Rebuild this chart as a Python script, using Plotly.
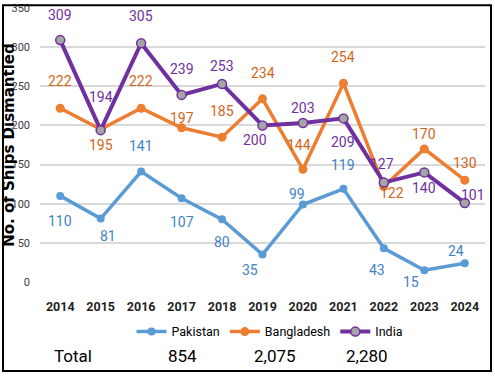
import plotly.graph_objects as go

years = ["2014", "2015", "2016", "2017", "2018", "2019", "2020", "2021", "2022", "2023", "2024"]
pakistan = [110, 81, 141, 107, 80, 35, 99, 119, 43, 15, 24]
bangladesh = [222, 195, 222, 197, 185, 234, 144, 254, 122, 170, 130]
india = [309, 194, 305, 239, 253, 200, 203, 209, 127, 140, 101]
y_ticks = [0, 50, 100, 150, 200, 250, 300, 350]

# label offsets in pixels (dx, dy downward)
pak_off = [(0, 25), (7, 17), (0, -26), (0, 24), (0, 23), (-13, 15), (-6, -11), (0, -24), (-7, 22), (-13, 12), (-9, -12)]
ban_off = [(0, -27), (0, 16), (0, -27), (0, -10), (0, -26), (0, -26), (-4, -24), (0, -26), (8, 7), (0, -15), (0, -17)]
ind_off = [(0, -25), (0, -33), (0, -27), (0, -26), (0, -18), (-8, 15), (0, -15), (0, 24), (-2, -19), (0, 16), (8, -8)]

FONT = "Roboto, Liberation Sans, sans-serif"

series = [
    ("Pakistan", pakistan, "#5B9BD5", "#3F83C4", dict(color="#5B9BD5", size=8), 3.5, pak_off),
    ("Bangladesh", bangladesh, "#ED7D31", "#D0661C", dict(color="#ED7D31", size=9), 3.5, ban_off),
    ("India", india, "#7030A0", "#7030A0", dict(color="#A5A5A5", size=9, line=dict(color="#7030A0", width=1.5)), 4, ind_off),
]

fig = go.Figure()
annotations = []
for name, vals, col, lcol, marker, lw, offs in series:
    fig.add_trace(go.Scatter(
        x=years, y=vals, name=name, mode="lines+markers",
        line=dict(color=col, width=lw), marker=marker,
    ))
    for i, (v, (dx, dy)) in enumerate(zip(vals, offs)):
        annotations.append(dict(
            x=i, y=v, xref="x", yref="y", text=str(v), showarrow=False,
            xshift=dx, yshift=-dy, font=dict(family=FONT, size=14, color=lcol),
        ))

# Totals row
totals = [sum(pakistan), sum(bangladesh), sum(india)]
total_x = [182, 275, 367]
ty = (282 - 356) / 274.2
annotations.append(dict(x=(73 - 40) / 445, y=ty, xref="paper", yref="paper",
                        xanchor="center", yanchor="middle",
                        text="Total", showarrow=False,
                        font=dict(family=FONT, size=17, color="#000000")))
for t, px in zip(totals, total_x):
    annotations.append(dict(x=(px - 40) / 445, y=ty, xref="paper", yref="paper",
                            xanchor="center", yanchor="middle",
                            text=f"{t:,}", showarrow=False,
                            font=dict(family=FONT, size=17, color="#000000")))

fig.update_layout(
    width=495, height=376,
    margin=dict(l=40, r=10, t=8, b=94),
    paper_bgcolor="white", plot_bgcolor="white",
    showlegend=True,
    legend=dict(orientation="h", x=(270 - 40) / 445, xanchor="center",
                y=(282 - 332) / 274.2, yanchor="middle",
                font=dict(family=FONT, size=12.5, color="#000000"),
                bgcolor="rgba(0,0,0,0)", itemwidth=30, tracegroupgap=0),
    annotations=annotations,
    shapes=[dict(type="rect", xref="paper", yref="paper",
                 x0=(3 - 40) / 445, x1=(491 - 40) / 445,
                 y0=(282 - 371) / 274.2, y1=(282 - 5) / 274.2,
                 line=dict(color="black", width=2), layer="above")],
    xaxis=dict(type="category", range=[-0.5, 10.5], showgrid=False, zeroline=False, showline=False,
               automargin=False,
               tickfont=dict(family=FONT, size=12.5, color="#1F1F1F", weight="bold"),
               ticklabelstandoff=15),
    yaxis=dict(range=[0, 350], tickvals=y_ticks, showgrid=True, gridcolor="#D9D9D9", gridwidth=1.5,
               zeroline=False, showline=False, automargin=False,
               tickfont=dict(family=FONT, size=11, color="#404040"),
               ticklabelstandoff=9,
               title=dict(text="No. of Ships Dismantled", standoff=1,
                          font=dict(family="DejaVu Sans", size=15, color="#000000", weight="bold"))),
)

fig.write_html("out.html", config={"displayModeBar": False},
               post_script="document.body.style.margin='0';")
